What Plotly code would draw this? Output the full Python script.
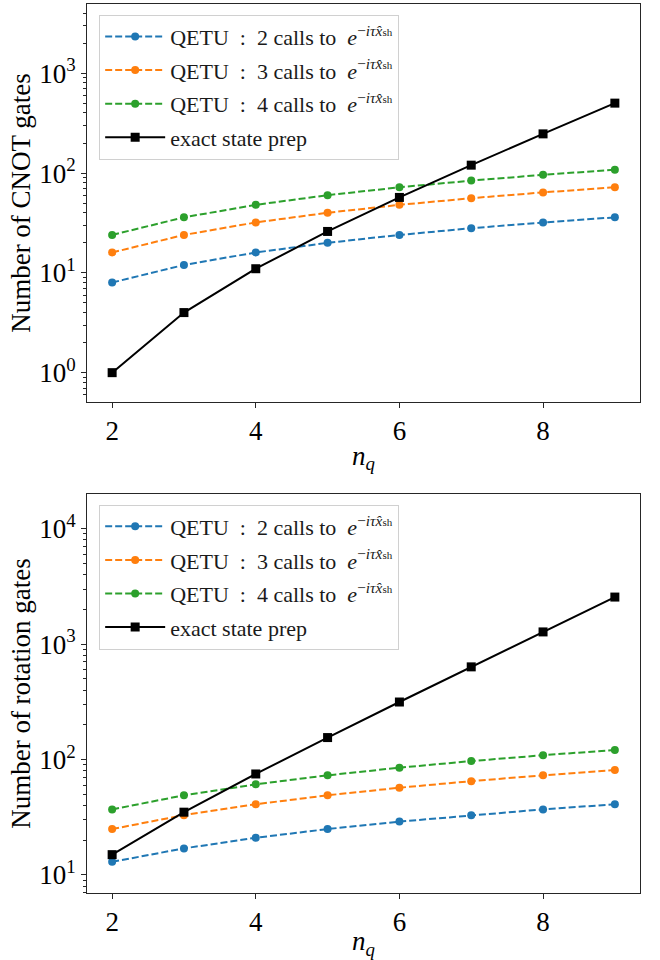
import plotly.graph_objects as go
from plotly.subplots import make_subplots

nq = [2, 3, 4, 5, 6, 7, 8, 9]

cnot_qetu2 = [8, 12, 16, 20, 24, 28, 32, 36]
cnot_qetu3 = [16, 24, 32, 40, 48, 56, 64, 72]
cnot_qetu4 = [24, 36, 48, 60, 72, 84, 96, 108]
cnot_exact = [1, 4, 11, 26, 57, 120, 247, 502]

rot_qetu2 = [13, 17, 21, 25, 29, 33, 37, 41]
rot_qetu3 = [25, 33, 41, 49, 57, 65, 73, 81]
rot_qetu4 = [37, 49, 61, 73, 85, 97, 109, 121]
rot_exact = [15, 35, 75, 155, 315, 635, 1275, 2555]

x_ticks = [2, 4, 6, 8]
top_exponents = [0, 1, 2, 3]
bottom_exponents = [1, 2, 3, 4]

EXP = "<i>e</i><sup>−<i>iτx̂</i><span style='font-size:11px'>sh</span></sup>"
labels = [
    "QETU&nbsp; :&nbsp; 2 calls to&nbsp; " + EXP,
    "QETU&nbsp; :&nbsp; 3 calls to&nbsp; " + EXP,
    "QETU&nbsp; :&nbsp; 4 calls to&nbsp; " + EXP,
    "exact state prep",
]
colors = ["#1f77b4", "#ff7f0e", "#2ca02c", "black"]

FONT = "Liberation Serif"
AX = "#262626"

fig = make_subplots(rows=2, cols=1, vertical_spacing=0.1035)

for row, series in [(1, [cnot_qetu2, cnot_qetu3, cnot_qetu4, cnot_exact]),
                    (2, [rot_qetu2, rot_qetu3, rot_qetu4, rot_exact])]:
    for i, ys in enumerate(series):
        exact = i == 3
        fig.add_trace(go.Scatter(
            x=nq, y=ys, mode="lines+markers", name=labels[i],
            line=dict(color=colors[i], width=2, dash="solid" if exact else "7px,3px"),
            marker=dict(color=colors[i], size=9 if exact else 8,
                        symbol="square" if exact else "circle"),
            legend="legend" if row == 1 else "legend2",
            legendgroup=f"r{row}s{i}",
            showlegend=True,
        ), row=row, col=1)


def minor_vals(e0, e1):
    return [m * 10 ** e for e in range(e0, e1) for m in range(2, 10)]

common_axis = dict(showline=True, linecolor=AX, linewidth=1, mirror=True,
                   ticks="outside", ticklen=5, tickcolor=AX, showgrid=False,
                   zeroline=False, automargin=False,
                   tickfont=dict(family=FONT, size=27, color="black"))

for r in (1, 2):
    fig.update_xaxes(range=[1.65, 9.35], tickvals=x_ticks,
                     title=dict(text="<i>n</i><sub><i>q</i></sub>",
                                font=dict(family=FONT, size=27, color="black"),
                                standoff=0),
                     row=r, col=1, **common_axis)

fig.update_yaxes(type="log", range=[-0.294, 3.694],
                 tickvals=[10 ** e for e in top_exponents],
                 ticktext=[f"10<sup>{e}</sup>" for e in top_exponents],
                 minor=dict(tickvals=minor_vals(-1, 4), ticks="outside", ticklen=3, tickcolor=AX),
                 title=dict(text="Number of CNOT gates",
                            font=dict(family=FONT, size=27, color="black"), standoff=0),
                 row=1, col=1, **common_axis)
fig.update_yaxes(type="log", range=[0.844, 4.30],
                 tickvals=[10 ** e for e in bottom_exponents],
                 ticktext=[f"10<sup>{e}</sup>" for e in bottom_exponents],
                 minor=dict(tickvals=minor_vals(0, 5), ticks="outside", ticklen=3, tickcolor=AX),
                 title=dict(text="Number of rotation gates",
                            font=dict(family=FONT, size=27, color="black"), standoff=0),
                 row=2, col=1, **common_axis)

fig.update_yaxes(domain=[0.5523, 1.0], row=1, col=1)
fig.update_yaxes(domain=[0.0, 0.4488], row=2, col=1)

legend_style = dict(bgcolor="rgba(255,255,255,0.8)", bordercolor="#d0d0d0", borderwidth=1,
                    font=dict(family=FONT, size=22, color="#1a1a1a"),
                    xanchor="left", yanchor="top", tracegroupgap=2, itemwidth=60)
fig.update_layout(
    width=660, height=960,
    margin=dict(l=87, r=20, t=4, b=67, autoexpand=False),
    plot_bgcolor="white", paper_bgcolor="white",
    font=dict(family=FONT, color="black"),
    legend=dict(x=0.022, y=0.988, **legend_style),
    legend2=dict(x=0.022, y=0.437, **legend_style),
)

fig.write_html("out.html", config={"displayModeBar": False},
               post_script="document.body.style.margin='0';")
